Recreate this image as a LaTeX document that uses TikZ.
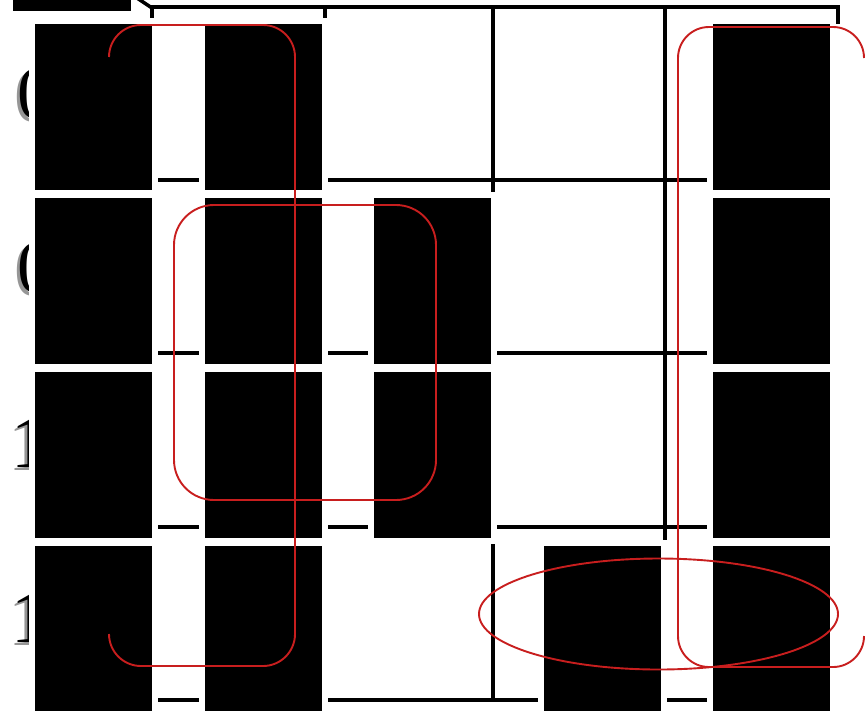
\documentclass[tikz,border=0pt]{standalone}
\usepackage{fontspec}
\setmainfont{Liberation Serif}
\usetikzlibrary{shapes.geometric}
\definecolor{RingRed}{RGB}{200,30,30}
\definecolor{ShadowGray}{RGB}{150,150,150}
\tikzset{
  gridline/.style={line width=3.5pt,draw=black},
  blot/.style={fill=black,draw=white,line width=6pt,inner sep=0pt,
    minimum width=123pt,minimum height=172pt},
  ringline/.style={draw=RingRed,line width=1.9pt},
  digit/.style={anchor=base,inner sep=0pt,font=\fontsize{74}{74}\selectfont}
}
\newcommand{\shadedigit}[1]{\makebox[0pt][l]{\hspace{-3pt}\raisebox{-3pt}{\textcolor{ShadowGray}{#1}}}#1}

\begin{document}
\begin{tikzpicture}[x=1pt,y=-1pt]
  \useasboundingbox (0,0) rectangle (866,710);
  % map lines
  \draw[gridline] (150.25,7) -- (839.75,7);
  \foreach \gy in {180,353,527,700}
    \draw[gridline] (152,\gy) -- (713,\gy);
  \foreach \gx in {152,325,493,665}
    \draw[gridline] (\gx,7) -- (\gx,700);
  \draw[gridline] (838,7) -- (838,24);
  \draw[gridline] (137,-2) -- (152,8);

  % row labels
  \foreach \r/\d/\lx/\by in {1/0/36/118,2/0/36/292,3/1/30/467,4/1/30/642}
    \node[digit] (row\r) at (\lx,\by) {\shadedigit{\d}};

  % cells
  \foreach \c/\r in {1/1,1/2,1/3,1/4,2/1,2/2,2/3,2/4,3/2,3/3,4/4,5/1,5/2,5/3,5/4}
    \node[blot] (cell\c\r) at ({93.5+169.5*(\c-1)},{107+174*(\r-1)}) {};
  \node[fill=black,inner sep=0pt,minimum width=118pt,minimum height=11pt] (corner) at (72,5.5) {};

  % groups
  \draw[ringline,rounded corners=32pt] (109,634) -- (109,666) -- (295,666) -- (295,25) -- (109,25) -- (109,57);
  \draw[ringline,rounded corners=40pt] (174,205) rectangle (436,500);
  \draw[ringline,rounded corners=31pt] (864,58) -- (864,27) -- (678,27) -- (678,667) -- (864,667) -- (864,636);
  \draw[ringline] (658.5,614) ellipse [x radius=179.5,y radius=55.5];
\end{tikzpicture}
\end{document}
